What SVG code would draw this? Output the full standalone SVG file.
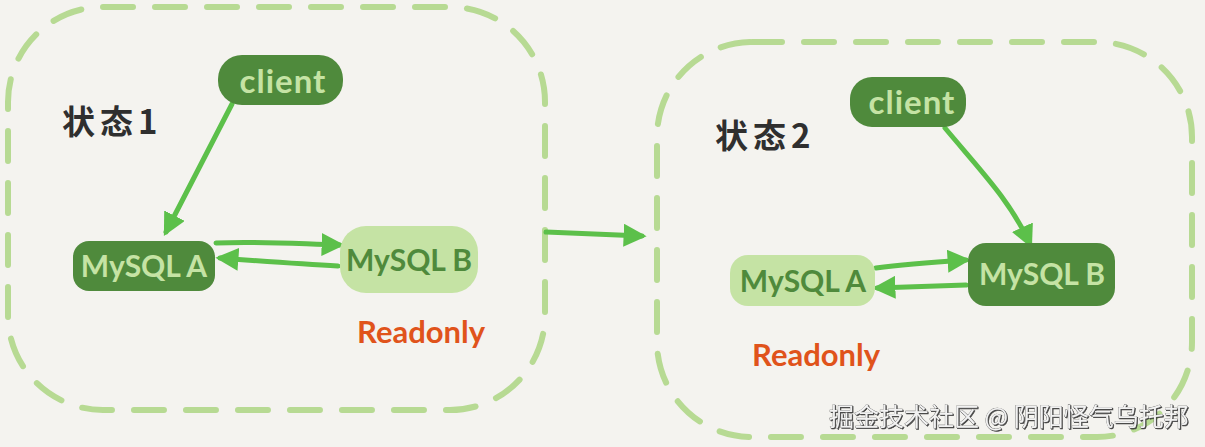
<svg xmlns="http://www.w3.org/2000/svg" width="1205" height="447" viewBox="0 0 1205 447">
<style>
.frame{fill:none;stroke:#b7da93;stroke-width:6;stroke-dasharray:30 22;stroke-linecap:round}
.dark{fill:#4f8a3c}
.light{fill:#c5e3a4}
.tl{font-family:Lato,"Open Sans",sans-serif;font-weight:bold;fill:#c5e3a4;font-size:30px;text-anchor:middle}
.tc{font-size:33px;letter-spacing:1px}
.td{font-family:Lato,"Open Sans",sans-serif;font-weight:bold;fill:#4f8a3c;font-size:30px;text-anchor:middle}
.state{font-family:"Noto Sans CJK SC",sans-serif;font-weight:bold;fill:#2f2f2f;font-size:33px;letter-spacing:5px}
.ro{font-family:Lato,"Open Sans",sans-serif;font-weight:bold;fill:#e0531b;font-size:31px}
.conn{fill:none;stroke:#5cc04a;stroke-width:5;stroke-linecap:round}
.wm{font-family:"Noto Sans CJK SC",sans-serif;font-size:25px;fill:#f2f2f2;stroke:#555;stroke-width:0.6;paint-order:stroke}
</style>
<defs>
<marker id="ah" viewBox="0 0 10 10" refX="8" refY="5" markerWidth="4.6" markerHeight="4.6" orient="auto" markerUnits="strokeWidth">
<path d="M0,0 L10,5 L0,10 z" fill="#5cc04a"/>
</marker>
<filter id="sh" x="-5%" y="-30%" width="110%" height="160%">
<feDropShadow dx="1" dy="1" stdDeviation="0.6" flood-color="#333" flood-opacity="0.9"/>
</filter>
</defs>
<rect width="1205" height="447" fill="#f4f3ef"/>

<g id="frame1"><rect class="frame" x="8" y="7" width="537" height="403" rx="95" ry="95"/></g>
<g id="frame2"><rect class="frame" x="657" y="42" width="535" height="395" rx="95" ry="95"/></g>

<g id="connectors">
<path class="conn" d="M546,232 L642,236" marker-end="url(#ah)"/>
<path class="conn" d="M232,104 L166,232" marker-end="url(#ah)"/>
<path class="conn" d="M216,243 C260,241 300,244 340,245" marker-end="url(#ah)"/>
<path class="conn" d="M338,266 C300,264 260,261 220,258" marker-end="url(#ah)"/>
<path class="conn" d="M945,128 C980,170 1010,200 1030,244" marker-end="url(#ah)"/>
<path class="conn" d="M876,268 C905,264 935,262 966,260" marker-end="url(#ah)"/>
<path class="conn" d="M966,285 C935,286 905,287 877,288" marker-end="url(#ah)"/>
</g>

<g id="state1"><text class="state" x="62" y="134">状态1</text></g>
<g id="client1"><rect class="dark" x="218" y="55" width="125" height="50" rx="24"/><text class="tl tc" x="283" y="93">client</text></g>
<g id="mysqlA1"><rect class="dark" x="73" y="241" width="142" height="50" rx="16"/><text class="tl" x="144" y="277">MySQL A</text></g>
<g id="mysqlB1"><rect class="light" x="340" y="226" width="138" height="67" rx="26"/><text class="td" x="409" y="271">MySQL B</text></g>
<g id="readonly1"><text class="ro" x="357" y="343">Readonly</text></g>

<g id="state2"><text class="state" x="715" y="148">状态2</text></g>
<g id="client2"><rect class="dark" x="850" y="77" width="116" height="50" rx="22"/><text class="tl tc" x="912" y="114">client</text></g>
<g id="mysqlA2"><rect class="light" x="730" y="255" width="145" height="51" rx="18"/><text class="td" x="803" y="292">MySQL A</text></g>
<g id="mysqlB2"><rect class="dark" x="968" y="243" width="147" height="63" rx="18"/><text class="tl" x="1042" y="285">MySQL B</text></g>
<g id="readonly2"><text class="ro" x="752" y="366">Readonly</text></g>

<g id="watermark"><text class="wm" filter="url(#sh)" x="829" y="426">掘金技术社区 @ 阴阳怪气乌托邦</text></g>
</svg>
